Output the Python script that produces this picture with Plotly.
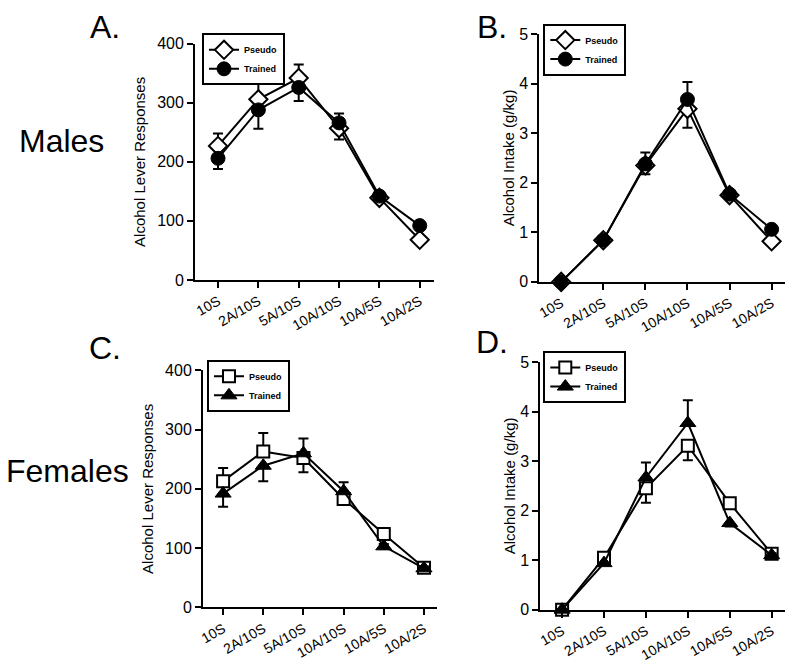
import plotly.graph_objects as go

categories = ["10S", "2A/10S", "5A/10S", "10A/10S", "10A/5S", "10A/2S"]

# Panel A: Males, lever responses
a_pseudo = [227, 306, 342, 257, 139, 68]
a_pseudo_up = [21, 31, 23, 0, 4, 3]
a_pseudo_dn = [0, 0, 0, 19, 4, 3]
a_trained = [206, 288, 326, 266, 142, 92]
a_trained_up = [0, 0, 0, 16, 4, 4]
a_trained_dn = [18, 32, 23, 0, 4, 4]

# Panel B: Males, intake
b_pseudo = [0.0, 0.84, 2.35, 3.49, 1.75, 0.82]
b_pseudo_up = [0, 0.04, 0, 0, 0.04, 0.04]
b_pseudo_dn = [0, 0.04, 0.18, 0.38, 0.04, 0.04]
b_trained = [0.0, 0.84, 2.38, 3.68, 1.77, 1.06]
b_trained_up = [0, 0.04, 0.23, 0.35, 0.05, 0.05]
b_trained_dn = [0, 0.04, 0, 0, 0.05, 0.05]

# Panel C: Females, lever responses
c_pseudo = [213, 263, 252, 183, 124, 67]
c_pseudo_up = [22, 31, 0, 0, 4, 3]
c_pseudo_dn = [0, 0, 24, 8, 4, 3]
c_trained = [192, 239, 260, 196, 103, 66]
c_trained_up = [0, 0, 25, 15, 4, 3]
c_trained_dn = [22, 26, 0, 0, 4, 3]

# Panel D: Females, intake
d_pseudo = [0.0, 1.05, 2.45, 3.31, 2.15, 1.13]
d_pseudo_up = [0, 0.04, 0, 0, 0.08, 0.04]
d_pseudo_dn = [0, 0, 0.29, 0.29, 0, 0.04]
d_trained = [0.0, 0.94, 2.67, 3.77, 1.75, 1.10]
d_trained_up = [0, 0, 0.30, 0.46, 0, 0.04]
d_trained_dn = [0, 0.04, 0, 0, 0.07, 0.04]

y_title_lever = "Alcohol Lever Responses"
y_title_intake = "Alcohol Intake (g/kg)"
panel_labels = ["A.", "B.", "C.", "D."]
row_labels = ["Males", "Females"]

FONT = "Liberation Sans, Arial, sans-serif"
W, H = 800, 671

fig = go.Figure()

panels = [
    (a_pseudo, a_pseudo_up, a_pseudo_dn, a_trained, a_trained_up, a_trained_dn,
     "x", "y", "legend", "diamond", "circle", 14, 14),
    (b_pseudo, b_pseudo_up, b_pseudo_dn, b_trained, b_trained_up, b_trained_dn,
     "x2", "y2", "legend2", "diamond", "circle", 14, 14),
    (c_pseudo, c_pseudo_up, c_pseudo_dn, c_trained, c_trained_up, c_trained_dn,
     "x3", "y3", "legend3", "square", "triangle-up", 12, 14),
    (d_pseudo, d_pseudo_up, d_pseudo_dn, d_trained, d_trained_up, d_trained_dn,
     "x4", "y4", "legend4", "square", "triangle-up", 12, 14),
]

for (p, pu, pd, t, tu, td, xa, ya, lg, s_open, s_fill, sz_o, sz_f) in panels:
    fig.add_trace(go.Scatter(
        x=categories, y=p, name="<b>Pseudo</b>", mode="lines+markers",
        xaxis=xa, yaxis=ya, legend=lg, cliponaxis=False,
        line=dict(color="black", width=2),
        marker=dict(symbol=s_open, size=sz_o, color="white",
                    line=dict(color="black", width=2)),
        error_y=dict(type="data", array=pu, arrayminus=pd, symmetric=False,
                     color="black", thickness=2, width=5),
    ))
    fig.add_trace(go.Scatter(
        x=categories, y=t, name="<b>Trained</b>", mode="lines+markers",
        xaxis=xa, yaxis=ya, legend=lg, cliponaxis=False,
        line=dict(color="black", width=2),
        marker=dict(symbol=s_fill, size=sz_f, color="black",
                    line=dict(color="black", width=1)),
        error_y=dict(type="data", array=tu, arrayminus=td, symmetric=False,
                     color="black", thickness=2, width=5),
    ))

def px_x(v):
    return v / W

def px_y(v):
    return 1 - v / H

axis_common = dict(showline=True, linecolor="black", linewidth=2,
                   ticks="outside", ticklen=6, tickwidth=2, tickcolor="black",
                   showgrid=False, zeroline=False,
                   tickfont=dict(family=FONT, size=16, color="black"))

x_common = dict(axis_common, type="category", tickangle=-30,
                tickfont=dict(family=FONT, size=14, color="black"))

layout_axes = {
    "xaxis": dict(x_common, domain=[px_x(192), px_x(432)], range=[-0.57, 5.35], anchor="y"),
    "yaxis": dict(axis_common, domain=[px_y(279), px_y(36.7)], range=[0, 400],
                  tickvals=[0, 100, 200, 300, 400], anchor="x",
                  title=dict(text=y_title_lever, standoff=8,
                             font=dict(family=FONT, size=15, color="black"))),
    "xaxis2": dict(x_common, domain=[px_x(538), px_x(785)], range=[-0.52, 5.32], anchor="y2"),
    "yaxis2": dict(axis_common, domain=[px_y(281), px_y(26.7)], range=[0, 5],
                   tickvals=[0, 1, 2, 3, 4, 5], anchor="x2",
                   title=dict(text=y_title_intake, standoff=1,
                              font=dict(family=FONT, size=15, color="black"))),
    "xaxis3": dict(x_common, domain=[px_x(200), px_x(435)], range=[-0.5, 5.32], anchor="y3"),
    "yaxis3": dict(axis_common, domain=[px_y(615), px_y(371.7)], range=[0, 400],
                   tickvals=[0, 100, 200, 300, 400], anchor="x3",
                   title=dict(text=y_title_lever, standoff=8,
                              font=dict(family=FONT, size=15, color="black"))),
    "xaxis4": dict(x_common, domain=[px_x(539), px_x(785)], range=[-0.52, 5.32], anchor="y4"),
    "yaxis4": dict(axis_common, domain=[px_y(617.3), px_y(363.3)], range=[0, 5],
                   tickvals=[0, 1, 2, 3, 4, 5], anchor="x4",
                   title=dict(text=y_title_intake, standoff=1,
                              font=dict(family=FONT, size=15, color="black"))),
}

legend_common = dict(xanchor="left", yanchor="top", bgcolor="white",
                     bordercolor="black", borderwidth=2,
                     font=dict(family=FONT, size=9, color="black"),
                     itemwidth=30, tracegroupgap=0)

legends = {
    "legend": dict(legend_common, x=px_x(199), y=px_y(26)),
    "legend2": dict(legend_common, x=px_x(542), y=px_y(16)),
    "legend3": dict(legend_common, x=px_x(204), y=px_y(361)),
    "legend4": dict(legend_common, x=px_x(542), y=px_y(352)),
}

big_font = dict(family=FONT, size=32, color="black")
annotations = [
    dict(text=panel_labels[0], x=px_x(102), y=px_y(20)),
    dict(text=panel_labels[1], x=px_x(490), y=px_y(20)),
    dict(text=panel_labels[2], x=px_x(102), y=px_y(349)),
    dict(text=panel_labels[3], x=px_x(490), y=px_y(343)),
    dict(text=row_labels[0], x=px_x(58), y=px_y(136)),
    dict(text=row_labels[1], x=px_x(64), y=px_y(475)),
]
for a in annotations:
    a.update(xref="paper", yref="paper", showarrow=False, font=big_font,
             xanchor="center", yanchor="middle")

fig.update_layout(
    width=W, height=H,
    margin=dict(l=0, r=0, t=0, b=0),
    paper_bgcolor="white", plot_bgcolor="white",
    showlegend=True,
    annotations=annotations,
    **layout_axes, **legends,
)

fig.write_html("out.html",
               config={"displayModeBar": False},
               post_script="document.body.style.margin='0';document.body.style.overflow='hidden';")
